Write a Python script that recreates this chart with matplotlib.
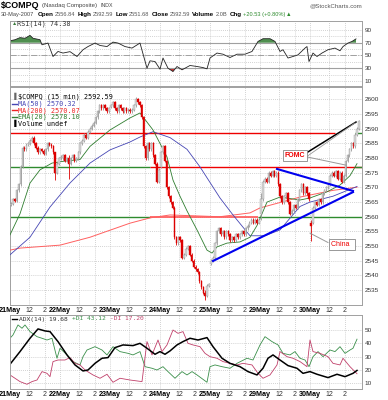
import matplotlib
matplotlib.use("Agg")
import matplotlib.pyplot as plt
import numpy as np

plt.rcParams['font.family'] = ['Liberation Sans', 'DejaVu Sans']

W, H = 388, 400
BARS = 26  # 15 min bars per session

day_labels = ["21May", "22May", "23May", "24May", "25May", "29May", "30May"]

# ---- $COMPQ 15 min closes, one list per session
c21 = [2564.5, 2566.0, 2565.5, 2569.0, 2571.0, 2577.0, 2583.5, 2583.0, 2584.5, 2585.0, 2586.0, 2587.0, 2585.0,
       2583.5, 2582.0, 2583.0, 2582.5, 2581.5, 2583.0, 2585.0, 2584.5, 2584.0, 2582.0, 2575.0, 2578.0, 2580.0]
c22 = [2580.0, 2581.0, 2579.0, 2580.0, 2578.0, 2580.0, 2581.0, 2579.0, 2580.0, 2582.0, 2585.0, 2586.0, 2588.0,
       2587.0, 2589.0, 2590.0, 2591.0, 2592.0, 2594.0, 2596.0, 2598.0, 2597.0, 2598.0, 2597.0, 2596.0, 2597.0]
c23 = [2598.0, 2599.0, 2597.0, 2596.0, 2598.0, 2597.0, 2596.0, 2597.0, 2596.0, 2596.5, 2596.0, 2596.5, 2598.0,
       2600.0, 2599.0, 2598.0, 2594.0, 2584.0, 2580.0, 2585.0, 2583.0, 2585.0, 2581.0, 2578.0, 2572.0, 2576.0]
c24 = [2582.0, 2584.0, 2579.0, 2570.0, 2567.0, 2565.0, 2563.0, 2553.0, 2551.0, 2553.0, 2552.0, 2546.0, 2547.0,
       2549.0, 2550.0, 2547.0, 2545.0, 2543.0, 2542.0, 2541.0, 2538.0, 2536.0, 2534.0, 2533.0, 2536.5, 2537.0]
c25 = [2545.0, 2546.0, 2551.0, 2555.0, 2556.0, 2554.0, 2555.0, 2553.0, 2555.0, 2554.0, 2552.0, 2553.0, 2552.0,
       2554.0, 2553.0, 2554.0, 2555.0, 2554.0, 2556.0, 2557.0, 2558.0, 2559.0, 2558.0, 2559.0, 2558.0, 2559.0]
c29 = [2566.0, 2572.0, 2573.0, 2572.0, 2575.0, 2574.0, 2575.5, 2574.0, 2575.0, 2571.0, 2567.0, 2565.0, 2567.0,
       2568.0, 2565.0, 2561.0, 2562.0, 2564.0, 2563.0, 2566.0, 2569.0, 2571.0, 2568.0, 2570.0, 2568.0, 2566.0]
c30 = [2558.0, 2563.0, 2565.0, 2564.0, 2566.0, 2565.0, 2568.0, 2569.0, 2570.0, 2571.0, 2574.0, 2575.0, 2574.0,
       2575.5, 2573.0, 2575.0, 2572.0, 2574.0, 2579.0, 2581.0, 2583.0, 2585.0, 2584.0, 2588.0, 2590.0, 2592.59]
session_open = [2564.0, 2580.5, 2597.5, 2577.0, 2544.0, 2561.0, 2556.84]
# bars with long wicks: (session, bar, high, low)
long_wicks = [(0, 23, 2580.0, 2572.5), (1, 4, 2581.0, 2573.0), (2, 13, 2601.0, 2597.5),
              (3, 23, 2535.0, 2531.5), (5, 0, 2568.0, 2559.0), (6, 0, 2559.0, 2551.68)]

# ---- overlays, x in trading days from 21May open
ema20_x = [0, 0.2, 0.4, 0.6, 0.84, 1.1, 1.4, 1.6, 2.0, 2.4, 2.6, 2.86, 3.0, 3.14, 3.26, 3.4, 3.54, 3.74, 3.94,
           4.04, 4.14, 4.34, 4.6, 4.8, 4.94, 5.14, 5.4, 5.8, 6.0, 6.34, 6.6, 6.8, 6.94]
ema20_y = [2553.8, 2561.0, 2571.5, 2576.0, 2578.3, 2579.0, 2579.5, 2584.0, 2589.6, 2593.7, 2595.4, 2589.6, 2585.0,
           2580.4, 2572.5, 2567.0, 2562.0, 2555.5, 2548.6, 2547.6, 2549.7, 2551.0, 2551.4, 2553.0, 2557.0, 2565.0,
           2566.7, 2565.7, 2566.4, 2568.5, 2570.8, 2574.0, 2578.1]
ma50_x = [0, 0.4, 0.8, 1.2, 1.6, 2.0, 2.4, 2.6, 2.86, 3.2, 3.54, 3.8, 4.2, 4.46, 4.8, 5.1, 5.4, 5.8, 6.0, 6.46, 6.94]
ma50_y = [2547.0, 2553.0, 2563.3, 2571.5, 2578.3, 2582.8, 2585.5, 2587.2, 2589.0, 2587.0, 2583.0, 2577.0, 2566.4,
          2560.6, 2553.5, 2553.5, 2555.5, 2563.5, 2565.0, 2567.0, 2570.32]
ma200_x = [0, 0.2, 1.0, 1.6, 2.4, 2.8, 3.2, 4.2, 4.8, 5.0, 5.8, 6.46, 6.94]
ma200_y = [2548.6, 2549.3, 2550.3, 2553.0, 2557.8, 2559.6, 2560.6, 2560.0, 2561.3, 2563.0, 2566.7, 2569.0, 2570.07]

# ---- RSI(14)
rsi_x = [0, 0.1, 0.2, 0.3, 0.4, 0.46, 0.6, 0.64, 0.76, 0.86, 0.96, 1.06, 1.2, 1.34, 1.46, 1.56, 1.7, 1.8, 1.94, 2.06,
         2.16, 2.3, 2.44, 2.6, 2.74, 2.8, 2.9, 3.0, 3.06, 3.16, 3.26, 3.34, 3.44, 3.5, 3.6, 3.74, 3.86, 3.94, 4.0,
         4.14, 4.26, 4.4, 4.54, 4.7, 4.84, 4.96, 5.06, 5.2, 5.3, 5.4, 5.46, 5.56, 5.66, 5.76, 5.9, 5.94, 5.98, 6.06,
         6.14, 6.24, 6.36, 6.5, 6.6, 6.66, 6.76, 6.84, 6.92]
rsi_y = [73, 74.7, 78, 77, 81.5, 77, 74.7, 66.8, 69.5, 48.4, 56.3, 53.8, 56, 48.4, 59, 64, 69.5, 65.7, 64, 71,
         69.5, 64, 61.6, 69.5, 30, 41.6, 40.5, 28.6, 46, 30, 24.8, 32.7, 27.5, 30, 34.3, 32.7, 31, 29, 46,
         53.8, 52, 46.8, 52, 52, 56.3, 72, 76.3, 76.3, 72, 56.3, 59, 46, 48.4, 51, 61.6, 64, 40.5, 53.8,
         48.4, 53.8, 59, 61.6, 57.4, 64, 69.5, 72, 76]

# ---- ADX(14), +DI, -DI
adx_x = [0, 0.2, 0.4, 0.56, 0.7, 0.8, 0.96, 1.14, 1.3, 1.46, 1.56, 1.7, 1.84, 1.96, 2.1, 2.26, 2.46, 2.6, 2.74,
         2.9, 3.0, 3.1, 3.2, 3.34, 3.46, 3.6, 3.76, 3.94, 4.06, 4.24, 4.4, 4.6, 4.76, 4.94, 5.06, 5.16, 5.26, 5.4,
         5.56, 5.74, 5.86, 6.0, 6.14, 6.36, 6.54, 6.7, 6.86, 6.94]
adx_y = [24.3, 33.8, 43.8, 50.8, 49.3, 48.8, 41.3, 31.3, 23.8, 19.3, 20, 25, 28.8, 29.3, 36.8, 38.8, 38.3, 40,
         36.3, 31.8, 33.8, 31.8, 34.3, 38.8, 41.3, 43.8, 42.5, 44.3, 37.5, 28.8, 25, 22.5, 18.8, 16.3, 21.3, 28.8,
         31.3, 27.5, 23.3, 21.3, 17.5, 18.8, 16.8, 14.3, 16.8, 15, 17.5, 19.68]
pdi_x = [0, 0.06, 0.16, 0.24, 0.3, 0.4, 0.54, 0.64, 0.74, 0.84, 0.94, 1.0, 1.14, 1.26, 1.4, 1.46, 1.54, 1.7,
         1.84, 1.94, 2.06, 2.2, 2.36, 2.46, 2.6, 2.7, 2.84, 2.94, 3.06, 3.16, 3.3, 3.44, 3.54, 3.64, 3.74, 3.94,
         4.0, 4.1, 4.24, 4.4, 4.54, 4.74, 4.86, 5.0, 5.1, 5.24, 5.36, 5.46, 5.6, 5.7, 5.8, 5.9, 5.98, 6.06, 6.16,
         6.26, 6.4, 6.5, 6.6, 6.7, 6.8, 6.86, 6.94]
pdi_y = [43.8, 46.3, 53.8, 51.3, 53.8, 48.8, 45, 43.8, 42.5, 43.8, 28.8, 36.3, 31.3, 26.3, 23.8, 30, 35, 37.5,
         35, 31.3, 37.5, 33.8, 32.5, 31.3, 33.8, 22.5, 21.3, 20, 22.5, 18.8, 13.8, 18.8, 16.3, 18.8, 16.3, 10.8,
         22.5, 23.8, 22.5, 21.3, 25, 28.8, 27.5, 38.8, 45, 41.3, 38.8, 32.5, 31.3, 33.8, 28.8, 27.5, 22.5, 30,
         33.8, 30, 35, 33.8, 37.5, 32.5, 35, 36.3, 43.12]
mdi_x = [0, 0.2, 0.34, 0.44, 0.54, 0.64, 0.74, 0.8, 0.86, 0.96, 1.1, 1.2, 1.3, 1.4, 1.5, 1.66, 1.8, 1.94, 2.06,
         2.2, 2.4, 2.64, 2.74, 2.84, 2.96, 3.04, 3.14, 3.26, 3.36, 3.46, 3.56, 3.66, 3.8, 3.9, 4.0, 4.14, 4.26,
         4.4, 4.54, 4.66, 4.84, 4.96, 5.06, 5.2, 5.34, 5.4, 5.54, 5.66, 5.8, 5.94, 6.0, 6.06, 6.2, 6.36, 6.46, 6.6,
         6.66, 6.8, 6.94]
mdi_y = [16.3, 11.3, 9.3, 11.3, 12.5, 18.8, 17.5, 15, 26.3, 27.5, 27.5, 29.3, 25, 23.8, 20, 16.3, 13.8, 16.8,
         10.8, 13.8, 12.5, 11.3, 41.3, 31.3, 42.5, 33.8, 38.8, 50, 47.5, 48.8, 40, 38.8, 37.5, 32.5, 30, 28.8,
         26.3, 25, 23.8, 25, 23.8, 17.5, 13.8, 16.3, 23.8, 33.8, 30, 28.8, 26.3, 22.5, 42.5, 33.8, 32.5, 30, 25,
         23.8, 28.8, 22.5, 17.2]

# ---- layout helpers (pixel coords of the 388x400 picture)
def fx(x):
    return x / W

def fy(y):
    return 1 - y / H

def chain(first, items, y):
    """Write text pieces one after another on a row"""
    prev_t = None
    for txt, size, w, c, gap in items:
        if prev_t is None:
            prev_t = fig.text(fx(first), fy(y), txt, fontsize=size, fontweight=w, color=c, va='center')
        else:
            prev_t = fig.add_artist(plt.Annotation(txt, xy=(1, 0.5), xycoords=prev_t, xytext=(gap, 0),
                                                   textcoords='offset points', fontsize=size, fontweight=w,
                                                   color=c, va='center'))

X0, X1 = 10, 362
fig = plt.figure(figsize=(3.88, 4.0), dpi=100)
ax_rsi = fig.add_axes([fx(X0), fy(86), fx(X1 - X0), 65 / H])
ax = fig.add_axes([fx(X0), fy(305), fx(X1 - X0), 218 / H])
ax_adx = fig.add_axes([fx(X0), fy(389), fx(X1 - X0), 74 / H])

XMAX = (X1 - X0) / 50
grid_kw = dict(color='#c4c4c4', linestyle=(0, (1, 1.5)), linewidth=0.6)
major_x = np.arange(7)
minor_x = np.concatenate([major_x + 10 / BARS, major_x + 18 / BARS])

for a in (ax_rsi, ax, ax_adx):
    a.set_xlim(0, XMAX)
    a.set_xticks(major_x)
    a.set_xticks(minor_x, minor=True)
    a.grid(True, which='both', axis='x', **grid_kw)
    a.grid(True, which='major', axis='y', **grid_kw)
    a.set_axisbelow(True)
    a.yaxis.tick_right()
    a.tick_params(axis='both', which='both', length=0, labelsize=4.6, colors='#333333', pad=2)
    for s in a.spines.values():
        s.set_color('#a0a0a0')
        s.set_linewidth(0.7)
    a.set_xticklabels([])
    a.set_xticklabels([], minor=True)

for a in (ax, ax_adx):
    a.set_xticklabels(day_labels, fontweight='bold', fontsize=5.2, color='black')
    a.set_xticklabels(["12"] * 7 + ["2"] * 7, minor=True, fontsize=5, color='#333333')
    a.tick_params(axis='x', which='both', pad=1.5)

# ---- price panel
closes = np.concatenate([c21, c22, c23, c24, c25, c29, c30])
n = len(closes)
opens = np.r_[np.nan, closes[:-1]]
opens[::BARS] = session_open
wick = 0.5
highs = np.maximum(opens, closes) + wick
lows = np.minimum(opens, closes) - wick
for d, k, hi, lo in long_wicks:
    highs[d * BARS + k] = hi
    lows[d * BARS + k] = lo
xs = (np.arange(n) + 0.5) / BARS
prev = np.r_[opens[0], closes[:-1]]
down = closes < prev
col = np.where(down, '#dd0000', '#9a9a9a')
face = np.where(down, '#dd0000', '#d8d8d8')

ax.set_ylim(2529.88, 2604.26)
ax.set_yticks(np.arange(2535, 2601, 5))
ax.set_yticklabels([str(v) for v in range(2535, 2601, 5)])

# horizontal levels
ax.hlines(2588.5, 0, 6.5, color='#ee0000', lw=1.0, zorder=2)
ax.hlines(2577.0, 0, 2.8, color='#2e8b2e', lw=1.0, zorder=2)
ax.hlines(2577.0, 2.8, XMAX, color='#ee0000', lw=1.0, zorder=2)
ax.hlines(2560.0, 0, 2.8, color='#2e8b2e', lw=1.0, zorder=2)
ax.hlines(2560.0, 2.8, 4.96, color='#ff5555', lw=1.2, zorder=2)
ax.hlines(2560.0, 4.96, XMAX, color='#2e8b2e', lw=1.0, zorder=2)
ax.hlines([2588.5, 2577.0], 6.9, XMAX, color='#2e8b2e', lw=1.0, zorder=2)

ax.plot(ma200_x, ma200_y, color='#ff6060', lw=0.7, zorder=3)
ax.plot(ma50_x, ma50_y, color='#4646b4', lw=0.6, zorder=3)
ax.plot(ema20_x, ema20_y, color='#2e7d2e', lw=0.6, zorder=3)

ax.vlines(xs, lows, highs, colors=col, lw=0.6, zorder=4)
ax.bar(xs, np.abs(closes - opens), bottom=np.minimum(opens, closes), width=0.75 / BARS,
       color=face, edgecolor=col, linewidth=0.3, zorder=5)

# triangle trendlines
ax.plot([4.06, 6.86], [2544.9, 2568.4], color='#0000ee', lw=1.5, zorder=6)
ax.plot([5.34, 6.86], [2576.3, 2568.8], color='#0000ee', lw=1.5, zorder=6)

# callouts
ax.plot([5.94, 6.92], [2581.9, 2592.3], color='black', lw=1.1, zorder=7)
ax.plot([5.94, 6.9], [2580.6, 2592.0], color='#999999', lw=0.6, zorder=7)
ax.plot([5.94, 6.72], [2580.4, 2577.6], color='#999999', lw=0.7, zorder=7)
ax.text(5.7, 2581.0, "FOMC", color='#ee0000', fontsize=5, fontweight='bold', ha='center', va='center', zorder=8,
        bbox=dict(boxstyle='square,pad=0.3', fc='white', ec='#888888', lw=0.6))
ax.plot([6.0, 6.36], [2554.4, 2551.2], color='#999999', lw=0.7, zorder=7)
ax.text(6.64, 2550.5, "China  ", color='#ee0000', fontsize=5, ha='center', va='center', zorder=8,
        bbox=dict(boxstyle='square,pad=0.3', fc='white', ec='#888888', lw=0.6))

mono = 'DejaVu Sans Mono'
legend_rows = [("$COMPQ (15 min) 2592.59", 'black', 96.7),
               ("MA(50) 2570.32", '#4646b4', 103.5),
               ("MA(200) 2570.07", '#ee2222', 110.3),
               ("EMA(20) 2578.10", '#2e7d2e', 117.0),
               ("Volume undef", 'black', 123.7)]
for txt, c, y in legend_rows:
    fig.text(fx(18.5), fy(y), txt, color=c, fontsize=4.9, family=mono, va='center')
for c, y in [('#4646b4', 103.5), ('#ee2222', 110.3), ('#2e7d2e', 117.0)]:
    fig.lines.append(plt.Line2D([fx(12), fx(17)], [fy(y), fy(y)], color=c, lw=1.0, transform=fig.transFigure))
fig.text(fx(12), fy(96.7), "\u2590", color='#666666', fontsize=4.5, va='center')
fig.text(fx(12), fy(123.7), "\u2590", color='black', fontsize=4.5, va='center')

# ---- RSI panel
ax_rsi.set_ylim(2.1, 104.1)
ax_rsi.set_yticks(np.arange(10, 100, 10))
ax_rsi.set_yticklabels(["10", "", "30", "", "50", "", "70", "", "90"])
ax_rsi.axhline(70, color='#a0a0a0', lw=0.8)
ax_rsi.axhline(30, color='#a0a0a0', lw=0.8)
ax_rsi.axhline(50, color='#a0a0a0', lw=0.7, linestyle='-.')
rx, ry = np.array(rsi_x), np.array(rsi_y)
ax_rsi.fill_between(rx, ry, 70, where=ry > 70, interpolate=True, color='#4f8f4f', lw=0)
ax_rsi.fill_between(rx, ry, 30, where=ry < 30, interpolate=True, color='#cc3333', lw=0)
ax_rsi.plot(rx, ry, color='#222222', lw=0.6)
fig.text(fx(12), fy(23.5), "\u25b2", color='#3a7a3a', fontsize=3.8, va='center')
fig.text(fx(17), fy(23.5), "RSI(14) 74.38", color='#333333', fontsize=4.9, family=mono, va='center')

# ---- ADX panel
ax_adx.set_ylim(5.75, 61.25)
ax_adx.set_yticks(np.arange(10, 51, 10))
ax_adx.plot(pdi_x, pdi_y, color='#3a8f4a', lw=0.6)
ax_adx.plot(mdi_x, mdi_y, color='#c0406a', lw=0.6)
ax_adx.plot(adx_x, adx_y, color='black', lw=1.1)
fig.lines.append(plt.Line2D([fx(12), fx(17)], [fy(319), fy(319)], color='black', lw=1.0,
                            transform=fig.transFigure))
t = fig.text(fx(19), fy(319), "ADX(14) 19.68", color='#333333', fontsize=4.5, family=mono, va='center')
t = fig.add_artist(plt.Annotation("+DI 43.12", xy=(1, 0.5), xycoords=t, xytext=(3, 0), textcoords='offset points',
                                  color='#3a8f4a', fontsize=4.5, family=mono, va='center'))
fig.add_artist(plt.Annotation("-DI 17.20", xy=(1, 0.5), xycoords=t, xytext=(3, 0), textcoords='offset points',
                              color='#c0406a', fontsize=4.5, family=mono, va='center'))

# ---- header
chain(1, [("$COMPQ", 6.4, 'bold', 'black', 0),
          ("(Nasdaq Composite)", 4.3, 'normal', '#444444', 2.0),
          ("INDX", 3.8, 'normal', '#444444', 2.0)], 5.5)
fig.text(fx(362), fy(5.5), "@StockCharts.com", fontsize=4.4, color='#555555', va='center', ha='right')
chain(1, [("30-May-2007", 4.1, 'normal', '#444444', 0), ("Open", 4.5, 'bold', 'black', 2.6),
          ("2556.84", 4.1, 'normal', '#555555', 0.8), ("High", 4.5, 'bold', 'black', 1.6),
          ("2592.59", 4.1, 'normal', '#555555', 0.8), ("Low", 4.5, 'bold', 'black', 1.6),
          ("2551.68", 4.1, 'normal', '#555555', 0.8), ("Close", 4.5, 'bold', 'black', 1.6),
          ("2592.59", 4.1, 'normal', '#555555', 0.8), ("Volume", 4.5, 'bold', 'black', 1.6),
          ("2.0B", 4.1, 'normal', '#555555', 0.8), ("Chg", 4.5, 'bold', 'black', 1.6),
          ("+20.53 (+0.80%)", 4.1, 'normal', '#2e8b2e', 0.8), ("\u25b2", 4.1, 'normal', '#2e8b2e', 0.8)], 14.5)

fig.savefig("out.png", dpi=100)
